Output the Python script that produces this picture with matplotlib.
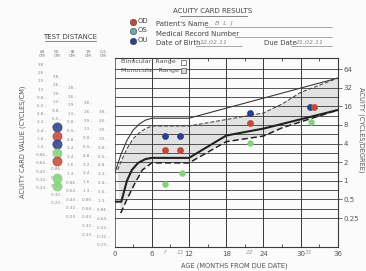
import matplotlib
matplotlib.use("Agg")
import matplotlib.pyplot as plt
from matplotlib.patches import Rectangle

# norm curves (age in months, acuity in cycles/degree)
ub_age = [0, 1, 2, 3, 4, 5, 6, 12, 36]
ub_val = [1.3, 2.6, 4.5, 6.6, 8.3, 9.6, 10.3, 10.3, 46]

um_age = [0.5, 1, 2, 3, 4, 5, 6, 12, 24, 27, 30, 36]
um_val = [1.5, 2.0, 3.3, 4.8, 6.0, 7.0, 7.7, 7.7, 12.5, 17.5, 27, 46]

lb_age = [0, 1.1, 2, 2.8, 3.8, 5, 6, 12, 18, 24, 36]
lb_val = [0.46, 0.46, 1.0, 1.5, 1.95, 2.25, 2.35, 2.35, 5.4, 7.0, 14]

lm_age = [1.0, 2, 3.3, 4.5, 6, 12, 18, 24, 27, 30, 36]
lm_val = [0.3, 0.5, 0.92, 1.5, 1.95, 1.95, 4.3, 5.3, 7.2, 9.0, 14]

# measured results
od_age = [8.1, 10.6, 21.9, 32.2]
od_val = [3.1, 3.1, 8.5, 15.9]
os_age = [8.1, 10.9, 21.9, 31.7]
os_val = [0.88, 1.36, 4.05, 8.9]
ou_age = [8.1, 10.6, 21.9, 31.5]
ou_val = [5.3, 5.3, 12.4, 15.5]

right_ticks = [64, 32, 16, 8, 4, 2, 1, 0.5, 0.25]
right_labels = ["64", "32", "16", "8", "4", "2", "1", "0.5", "0.25"]
age_ticks = [0, 6, 12, 18, 24, 30, 36]
hand_ages = [8.1, 10.7, 21.8, 31.3]
hand_labels = ["f", "11", "22", "31"]

dist_labels = ["84\nCM", "55\nCM", "38\nCM", "19\nCM", "5.5\nCM"]
card_values = ["38", "26", "19", "13", "9.8", "6.5", "4.8", "3.2",
               "2.4", "1.6", "1.3", "0.86", "0.64", "0.43", "0.32", "0.23"]
circled_rows = [6, 7, 8, 9, 10, 12, 13]
circled_colors = ["ou", "od", "ou", "os", "od", "os", "os"]

RED = "#c24a3a"
BLUE = "#2b3f8c"
GREEN = "#86d27c"
TEAL = "#6aa8b0"
INK = "#3a3a3a"
colors = {"od": RED, "os": GREEN, "ou": BLUE}

W, H = 366, 271
fig = plt.figure(figsize=(W / 100, H / 100), dpi=100)
fig.patch.set_facecolor("#fbfbfb")

ax = fig.add_axes([114.5 / W, 1 - 247 / H, (338 - 114.5) / W, (247 - 58) / H])
ax.set_facecolor("#fbfbfb")
ax.set_yscale("log", base=2)
ax.set_xlim(0, 36)
ax.set_ylim(0.085, 97)

# grid: half-octave card steps, 6-month columns
for k in range(17):
    ax.axhline(0.25 * 2 ** (k / 2), color=INK, lw=0.6, zorder=1)
for a in [6, 12, 18, 24, 30]:
    ax.axvline(a, color=INK, lw=0.7, zorder=1)

# monocular range (shaded)
poly_x = um_age + lm_age[::-1]
poly_y = um_val + lm_val[::-1]
ax.fill(poly_x, poly_y, color="#e2e2e2", zorder=0.5, lw=0)

ax.plot(ub_age, ub_val, color=INK, lw=0.8, zorder=3)
ax.plot(um_age, um_val, color=INK, lw=0.7, ls=(0, (4, 2)), zorder=3)
ax.plot(lb_age, lb_val, color="#222222", lw=1.5, zorder=3)
ax.plot(lm_age, lm_val, color="#222222", lw=1.1, ls=(0, (4, 2)), zorder=3)

ax.scatter(ou_age, ou_val, s=24, color=BLUE, zorder=5, lw=0)
ax.scatter(od_age, od_val, s=24, color=RED, zorder=6, lw=0)
ax.scatter(os_age, os_val, s=22, color=GREEN, zorder=6, lw=0)

ax.yaxis.tick_right()
ax.set_yticks(right_ticks)
ax.set_yticklabels(right_labels)
ax.yaxis.set_minor_locator(matplotlib.ticker.NullLocator())
ax.tick_params(axis="y", which="major", direction="out", length=3, width=0.6,
               pad=1, labelsize=5, colors="#555555")
ax.set_xticks(age_ticks)
ax.set_xticklabels([str(a) for a in age_ticks])
ax.set_xticks(list(range(3, 36, 6)), minor=True)
ax.tick_params(axis="x", which="major", length=0, pad=3, labelsize=5, colors="#555555")
ax.tick_params(axis="x", which="minor", direction="in", length=2.5, width=0.6,
               top=True, bottom=True, colors=INK)
for s in ax.spines.values():
    s.set_color(INK)
    s.set_linewidth(0.8)
ax.spines["left"].set_linewidth(0.5)

# overlay in pixel coordinates for the form text
ov = fig.add_axes([0, 0, 1, 1])
ov.set_xlim(0, W)
ov.set_ylim(H, 0)
ov.axis("off")

txt = dict(color="#444444", fontsize=5, va="center")
ov.text(213, 11, "ACUITY CARD RESULTS", ha="center", **txt)
ov.plot([180, 247], [15.5, 15.5], color="#555555", lw=0.5)

for yy, c, lab in [(22, RED, "OD"), (31, TEAL, "OS"), (41, BLUE, "OU")]:
    ov.scatter([133], [yy], s=22, color=c, edgecolors="#444444", linewidths=0.4, zorder=5)
    ov.text(138, yy - 1, lab, ha="left", **txt)

ov.text(156, 24, "Patient's Name", ha="left", **txt)
ov.plot([205, 332], [27, 27], color="#666666", lw=0.4)
ov.text(215, 23, "B  L  J", ha="left", color="#888888", fontsize=4.5,
        style="italic", va="center")
ov.text(156, 33.5, "Medical Record Number", ha="left", **txt)
ov.plot([235, 332], [36.5, 36.5], color="#666666", lw=0.4)
ov.text(156, 43, "Date of Birth", ha="left", **txt)
ov.plot([196, 242], [46, 46], color="#666666", lw=0.4)
ov.text(200, 42, "12.02.11", ha="left", color="#888888", fontsize=4.5,
        style="italic", va="center")
ov.text(264, 43, "Due Date", ha="left", **txt)
ov.plot([291, 332], [46, 46], color="#666666", lw=0.4)
ov.text(296, 42, "21.02.11", ha="left", color="#888888", fontsize=4.5,
        style="italic", va="center")

# in-plot legend
ov.text(121, 62, "Binocular  Range", ha="left", color="#555555", fontsize=4.6, va="center")
ov.text(121, 70.5, "Monocular  Range", ha="left", color="#555555", fontsize=4.6, va="center")
ov.add_patch(Rectangle((181, 59.5), 5, 5, fc="white", ec="#555555", lw=0.5))
ov.add_patch(Rectangle((181, 68), 5, 5, fc="#d6d6d6", ec="#555555", lw=0.5))

# test distance columns
ov.text(70, 37, "TEST DISTANCE", ha="center", **txt)
ov.plot([45, 96], [41, 41], color="#555555", lw=0.5)
col_x = [42, 57, 72, 88, 103]
col_y0 = [65, 77, 88, 103, 112]
col_step = [8.2, 8.4, 8.6, 8.8, 8.9]
for cx, lab in zip(col_x, dist_labels):
    ov.text(cx, 54, lab, ha="center", color="#777777", fontsize=3.2, va="center",
            linespacing=1.1)
for ci, cx in enumerate(col_x):
    for ri, v in enumerate(card_values):
        yy = col_y0[ci] + ri * col_step[ci]
        if yy > 250:
            break
        ov.text(cx, yy, v + " -", ha="center", color="#888888", fontsize=3.0, va="center")
for ri, key in zip(circled_rows, circled_colors):
    yy = col_y0[1] + ri * col_step[1]
    ov.scatter([57], [yy], s=40, facecolors=colors[key], edgecolors=colors[key],
               linewidths=0.8, alpha=0.85, zorder=6)

# handwritten ages under the axis
for a, lab in zip(hand_ages, hand_labels):
    px = 114.5 + a * (338 - 114.5) / 36
    ov.text(px, 253, lab, ha="center", color="#9a9a9a", fontsize=4.3,
            style="italic", va="center")

ov.text(23, 142, "ACUITY CARD VALUE (CYCLES/CM)", ha="center", rotation=90,
        color="#555555", fontsize=4.8, va="center")
ov.text(361, 130, "ACUITY (CYCLES/DEGREE)", ha="center", rotation=270,
        color="#555555", fontsize=4.8, va="center")
ov.text(234, 266, "AGE (MONTHS FROM DUE DATE)", ha="center", color="#555555",
        fontsize=4.8, va="center")

fig.savefig("out.png", dpi=100, facecolor=fig.get_facecolor())
